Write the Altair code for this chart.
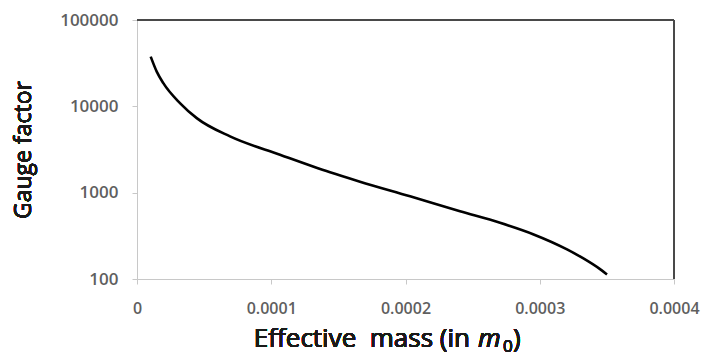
import altair as alt
import pandas as pd

# Effective mass (in units of m0) and the resulting gauge factor
mass = [0.0000102, 0.0000147, 0.0000196, 0.000032, 0.0000445, 0.0000693,
        0.0001065, 0.0001438, 0.0001661, 0.0002034, 0.0002406, 0.0002704,
        0.000295, 0.0003203, 0.0003322, 0.0003449, 0.0003501]
gauge = [37650, 25250, 18550, 10900, 7300, 4480,
         2750, 1720, 1340, 906, 608, 447,
         330, 220, 174, 130, 113]

x_ticks = [0, 0.0001, 0.0002, 0.0003, 0.0004]
y_ticks = [100, 1000, 10000, 100000]

df = pd.DataFrame({"mass": mass, "gauge": gauge})

FONT = "Open Sans"
W, H = 537, 259
LABEL_COLOR = "#5f5f5f"
AXIS_GREY = "#c8c8c8"

x_enc = alt.X(
    "mass:Q",
    scale=alt.Scale(domain=[0, 0.0004], nice=False, zero=False),
    axis=alt.Axis(values=x_ticks,
                  labelExpr="datum.value == 0 ? '0' : format(datum.value, '.4f')",
                  title=None, grid=False, domainColor=AXIS_GREY, tickColor=AXIS_GREY,
                  tickSize=5, labelPadding=16, labelFontSize=16, labelColor=LABEL_COLOR,
                  labelFont=FONT, labelFontWeight=600, labelFlush=False),
)
y_enc = alt.Y(
    "gauge:Q",
    scale=alt.Scale(type="log", domain=[100, 100000], nice=False),
    axis=alt.Axis(values=y_ticks, format="d", title=None, grid=False,
                  domainColor=AXIS_GREY, tickColor=AXIS_GREY, tickSize=5,
                  labelPadding=14, labelFontSize=17, labelColor=LABEL_COLOR,
                  labelFont=FONT, labelFontWeight=600, labelFlush=False),
)

curve = alt.Chart(df).mark_line(color="black", strokeWidth=2.6, interpolate="monotone").encode(
    x=x_enc, y=y_enc
)

# dark frame on the top and right sides of the plot area
top_edge = alt.Chart(df).mark_rule(color="#4a4a4a", strokeWidth=1.6).encode(
    x=alt.value(0), x2=alt.value(W), y=alt.value(0)
)
right_edge = alt.Chart(df).mark_rule(color="#4a4a4a", strokeWidth=1.6).encode(
    x=alt.value(W), y=alt.value(0), y2=alt.value(H)
)

TITLE_COLOR = "#1a1a1a"
title_style = dict(font=FONT, fontSize=26, color=TITLE_COLOR, baseline="alphabetic")
x_title_main = alt.Chart(df).mark_text(align="right", **title_style).encode(
    x=alt.value(333), y=alt.value(327), text=alt.value("Effective\u00a0 mass (in")
)
x_title_m = alt.Chart(df).mark_text(align="left", fontStyle="italic", **title_style).encode(
    x=alt.value(341), y=alt.value(327), text=alt.value("m")
)
x_title_sub = alt.Chart(df).mark_text(align="left", font=FONT, fontSize=17, color=TITLE_COLOR,
                                      baseline="alphabetic").encode(
    x=alt.value(366), y=alt.value(332), text=alt.value("0")
)
x_title_close = alt.Chart(df).mark_text(align="left", **title_style).encode(
    x=alt.value(376), y=alt.value(327), text=alt.value(")")
)
y_title = alt.Chart(df).mark_text(angle=270, align="center", font=FONT, fontSize=23,
                                  color=TITLE_COLOR, baseline="middle").encode(
    x=alt.value(-113), y=alt.value(130), text=alt.value("Gauge factor")
)

chart = alt.layer(
    curve, top_edge, right_edge, x_title_main, x_title_m, x_title_sub, x_title_close, y_title
).properties(
    width=W, height=H,
    autosize=alt.AutoSizeParams(type="none"),
    padding={"left": 137, "top": 20, "right": 28, "bottom": 84},
    background="white",
).configure_view(stroke=None)

chart.save("out.html", embed_options={"renderer": "svg", "actions": False})
